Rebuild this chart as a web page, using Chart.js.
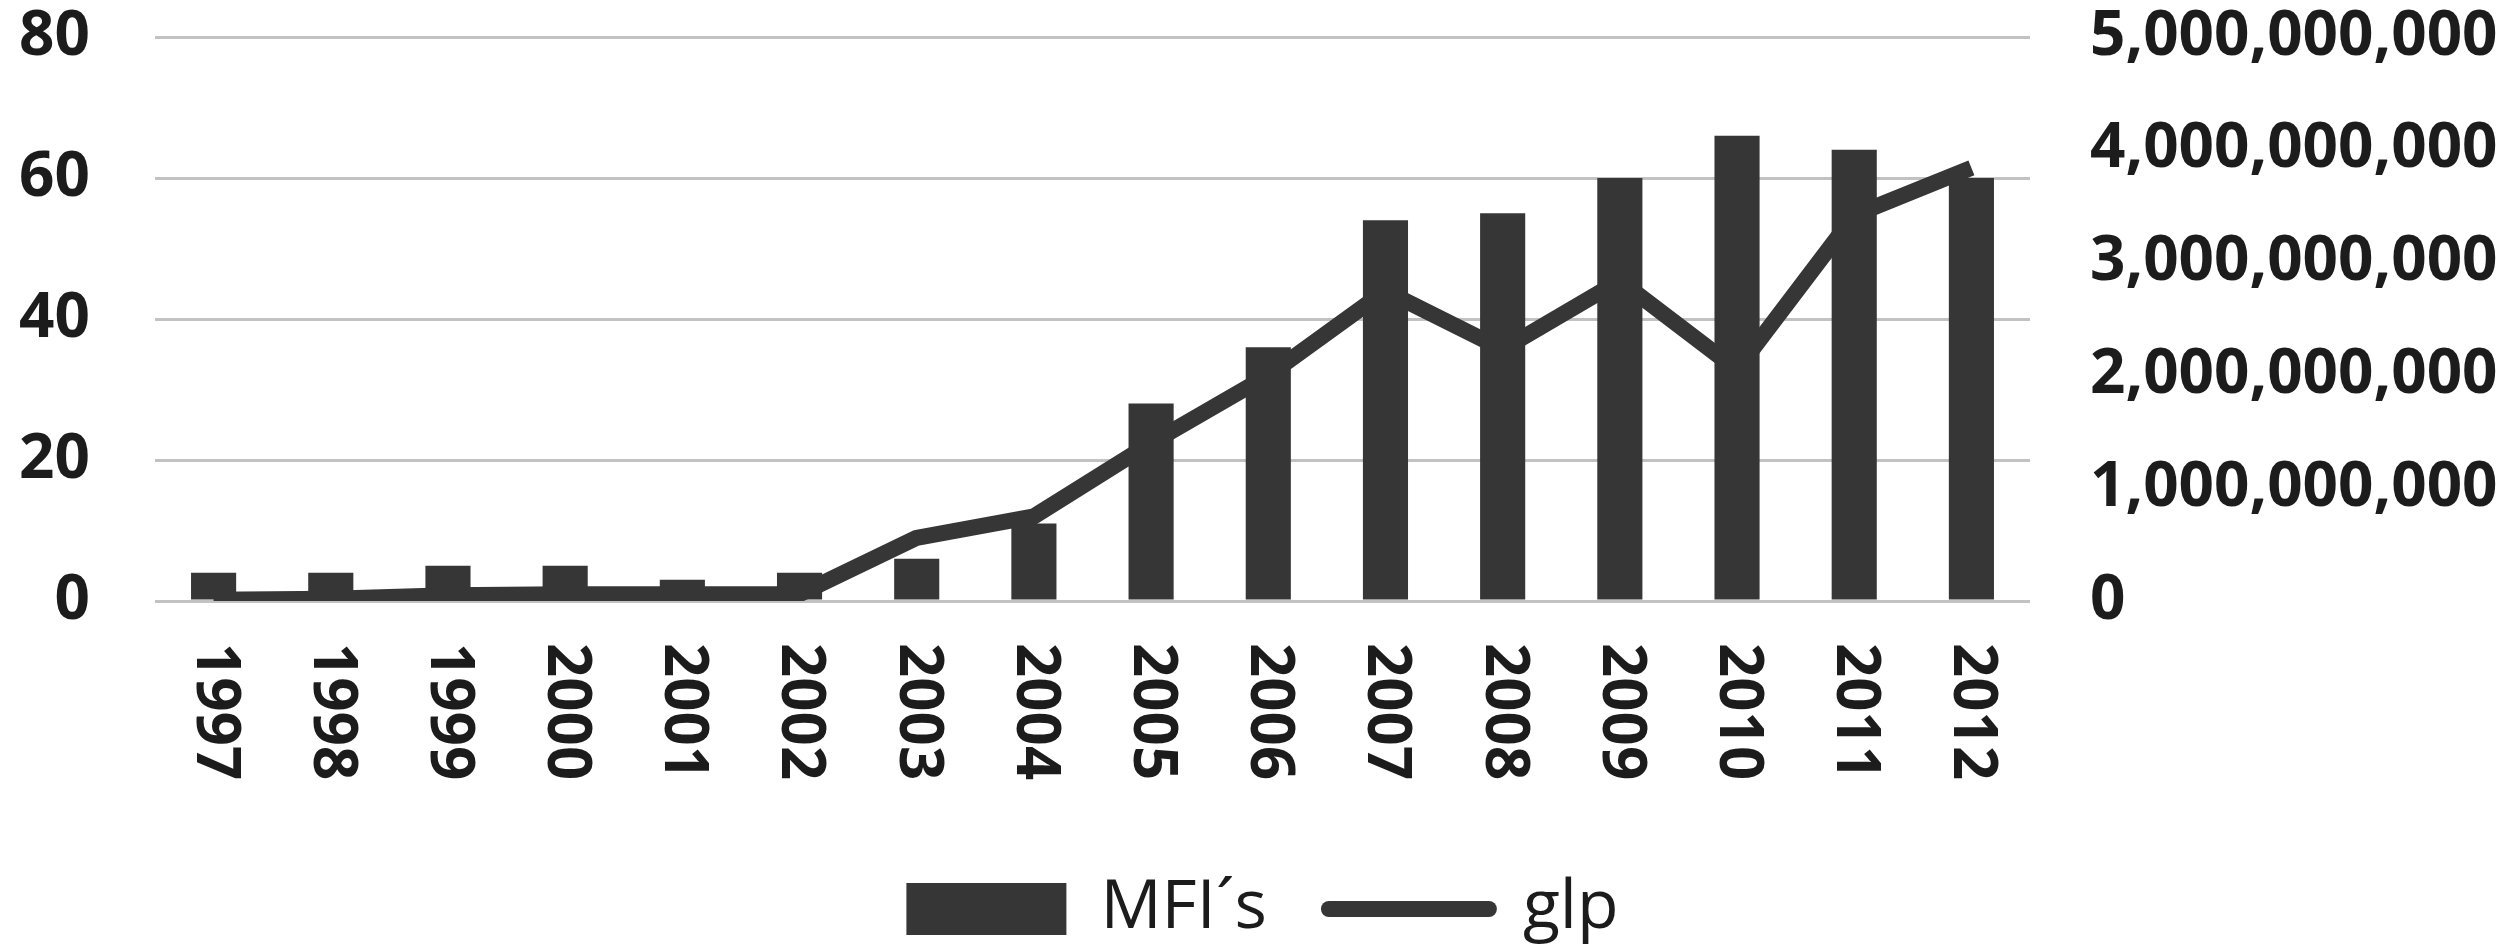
<!DOCTYPE html>
<html>
<head>
<meta charset="utf-8">
<script src="https://cdn.jsdelivr.net/npm/chart.js@4.4.1/dist/chart.umd.min.js"></script>
<style>
  html, body { margin: 0; padding: 0; background: #fff; }
  #wrap { width: 2497px; height: 944px; }
</style>
</head>
<body>
<div id="wrap"><canvas id="combo"></canvas></div>
<script>
const years = ['1997', '1998', '1999', '2000', '2001', '2002', '2003', '2004',
               '2005', '2006', '2007', '2008', '2009', '2010', '2011', '2012'];
const mfis = [4, 4, 5, 5, 3, 4, 6, 11, 28, 36, 54, 55, 60, 66, 64, 60];
const glp = [10e6, 20e6, 50e6, 60e6, 60e6, 60e6, 560e6, 750e6,
             1400e6, 2000e6, 2750e6, 2230e6, 2840e6, 2050e6, 3420e6, 3840e6];
const leftTicks = [0, 20, 40, 60, 80];
const rightTicks = [0, 1e9, 2e9, 3e9, 4e9, 5e9];

const dark = '#363636';
const ink = '#1c1c1c';
const grid = '#c2c2c2';

// x labels are turned clockwise (read top to bottom), so draw them here
const yearLabels = {
  id: 'yearLabels',
  afterLayout(chart) {
    // nudge the legend a little lower / right, like the original
    const lg = chart.legend;
    lg.top += 9; lg.bottom += 9;
    lg.left += 14; lg.right += 14;
  },
  afterDraw(chart) {
    const x = chart.scales.x;
    const c = chart.ctx;
    c.save();
    c.font = 'bold 60px "Open Sans"';
    c.fillStyle = ink;
    c.textAlign = 'left';
    c.textBaseline = 'middle';
    chart.data.labels.forEach((lab, i) => {
      c.save();
      c.translate(x.getPixelForTick(i), x.top + 42);
      c.rotate(Math.PI / 2);
      c.fillText(lab, 0, 0);
      c.restore();
    });
    c.restore();
  }
};

function tightY(s, w) {
  s.width = w;
  s.paddingTop = 37;
  s.paddingBottom = 0;
}

new Chart(document.getElementById('combo'), {
  data: {
    labels: years,
    datasets: [{
      type: 'bar',
      label: 'MFI´s',
      data: mfis,
      yAxisID: 'y',
      backgroundColor: dark,
      barPercentage: 0.385,
      categoryPercentage: 1,
      order: 1
    }, {
      type: 'line',
      label: 'glp',
      data: glp,
      yAxisID: 'y1',
      borderColor: dark,
      backgroundColor: dark,
      borderWidth: 16,
      borderJoinStyle: 'round',
      pointRadius: 0,
      tension: 0,
      order: 0
    }]
  },
  options: {
    responsive: true,
    maintainAspectRatio: false,
    animation: false,
    layout: { padding: 0 },
    plugins: {
      tooltip: { enabled: false },
      legend: {
        position: 'bottom',
        labels: {
          font: { family: 'Open Sans', size: 68 },
          color: ink,
          usePointStyle: true,
          pointStyleWidth: 160,
          boxHeight: 52,
          padding: 62,
          sort: (a, b) => a.datasetIndex - b.datasetIndex,
          generateLabels(chart) {
            const items = Chart.defaults.plugins.legend.labels.generateLabels(chart);
            items.forEach(it => {
              if (it.datasetIndex === 1) {
                it.pointStyle = 'line';
                it.lineWidth = 16;
                it.strokeStyle = dark;
                it.lineCap = 'round';
              } else {
                it.pointStyle = 'rect';
                it.lineWidth = 0;
                it.fillStyle = dark;
              }
            });
            return items;
          }
        }
      }
    },
    scales: {
      x: {
        grid: { display: false },
        border: { display: false },
        ticks: { display: false },
        afterFit(s) { s.height = 203; }
      },
      y: {
        position: 'left',
        min: 0,
        max: 80,
        afterBuildTicks(s) { s.ticks = leftTicks.map(v => ({ value: v })); },
        grid: { color: grid, lineWidth: 3, drawTicks: false },
        border: { display: false },
        ticks: {
          padding: 65,
          color: ink,
          font: { family: 'Open Sans', size: 62, weight: 'bold', lineHeight: 1.2 }
        },
        afterFit(s) { tightY(s, 155); }
      },
      y1: {
        position: 'right',
        min: 0,
        max: 5e9,
        afterBuildTicks(s) { s.ticks = rightTicks.map(v => ({ value: v })); },
        grid: { drawOnChartArea: false, drawTicks: false },
        border: { display: false },
        ticks: {
          padding: 60,
          color: ink,
          font: { family: 'Open Sans', size: 62, weight: 'bold', lineHeight: 1.2 },
          callback: v => v.toLocaleString('en-US')
        },
        afterFit(s) { tightY(s, 467); }
      }
    }
  },
  plugins: [yearLabels]
});
</script>
</body>
</html>
